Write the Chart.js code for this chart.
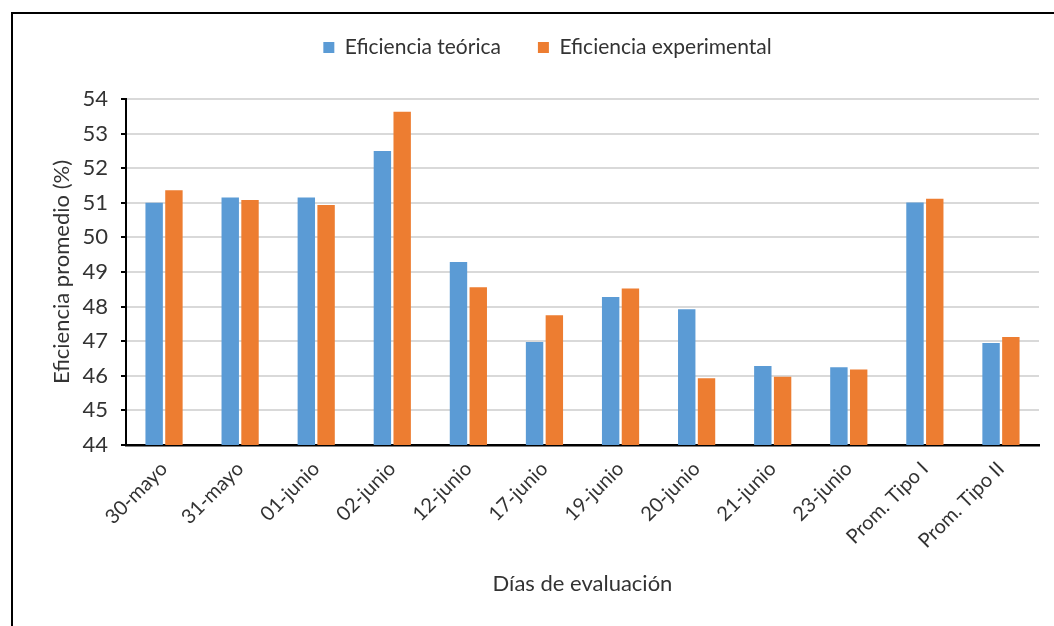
<!DOCTYPE html>
<html>
<head>
<meta charset="utf-8">
<script src="https://cdn.jsdelivr.net/npm/chart.js@4/dist/chart.umd.min.js"></script>
<style>
  html, body { margin: 0; padding: 0; background: #fff; overflow: hidden; }
  #wrap { position: relative; width: 1054px; height: 626px; }
  #frame { position: absolute; left: 11px; top: 12px; width: 2000px; height: 2000px;
           border-left: 2.5px solid #000; border-top: 2.5px solid #000; pointer-events: none; }
</style>
</head>
<body>
<div id="wrap">
  <canvas id="c"></canvas>
  <div id="frame"></div>
</div>
<script>
const categories = ["30-mayo", "31-mayo", "01-junio", "02-junio", "12-junio", "17-junio",
  "19-junio", "20-junio", "21-junio", "23-junio", "Prom. Tipo I", "Prom. Tipo II"];
const teorica = [51.00, 51.15, 51.15, 52.50, 49.29, 46.98, 48.28, 47.92, 46.28, 46.25, 51.01, 46.95];
const experimental = [51.36, 51.08, 50.94, 53.63, 48.56, 47.75, 48.52, 45.93, 45.97, 46.18, 51.12, 47.12];
const seriesNames = ["Eficiencia teórica", "Eficiencia experimental"];
const yMin = 44, yMax = 54, yStep = 1;
const xTitle = "Días de evaluación";
const yTitle = "Eficiencia promedio (%)";

const FONT = "Lato, 'Open Sans', sans-serif";
const TXT = "#333333";

const legendPlace = {
  id: 'legendPlace',
  afterInit(chart) {
    const lg = chart.legend;
    if (!lg) return;
    const orig = lg.fit;
    lg.fit = function () { orig.call(this); this.height = 99; };
  },
  afterLayout(chart) {
    const lg = chart.legend;
    if (!lg) return;
    lg.left += 28;
    lg.right += 28;
  }
};

new Chart(document.getElementById('c'), {
  type: 'bar',
  data: {
    labels: categories,
    datasets: [
      { label: seriesNames[0], data: teorica, backgroundColor: '#5B9BD5',
        categoryPercentage: 0.52, barPercentage: 0.88 },
      { label: seriesNames[1], data: experimental, backgroundColor: '#ED7D31',
        categoryPercentage: 0.52, barPercentage: 0.88 }
    ]
  },
  options: {
    responsive: true,
    maintainAspectRatio: false,
    animation: false,
    layout: { padding: { left: 0, right: 15, top: 0, bottom: 0 } },
    plugins: {
      tooltip: { enabled: false },
      legend: {
        position: 'top',
        labels: {
          font: { family: FONT, size: 21 },
          color: TXT,
          boxWidth: 11, boxHeight: 11,
          padding: 37
        }
      }
    },
    scales: {
      x: {
        grid: { display: false },
        border: { display: true, color: '#000', width: 2.5 },
        ticks: {
          font: { family: FONT, size: 20 },
          color: TXT,
          minRotation: 45, maxRotation: 45,
          padding: 4
        },
        title: {
          display: true, text: xTitle,
          font: { family: FONT, size: 22 }, color: TXT,
          padding: { top: 0, bottom: 29 }
        },
        afterFit(scale) { scale.height = 181; }
      },
      y: {
        min: yMin, max: yMax,
        ticks: { stepSize: yStep, font: { family: FONT, size: 22 }, color: TXT, padding: 13 },
        grid: { color: '#d9d9d9', lineWidth: 2, tickColor: '#000', tickLength: 5, tickWidth: 2 },
        border: { display: true, color: '#000', width: 2 },
        title: {
          display: true, text: yTitle,
          font: { family: FONT, size: 22 }, color: TXT,
          padding: { top: 49, bottom: 0 }
        },
        afterFit(scale) { scale.width = 126; }
      }
    }
  },
  plugins: [legendPlace]
});
</script>
</body>
</html>
